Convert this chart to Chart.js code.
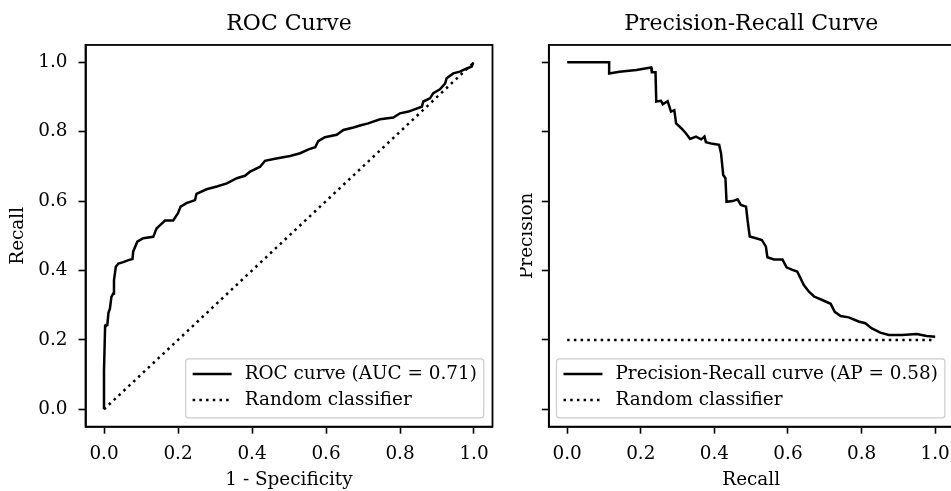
<!DOCTYPE html>
<html>
<head>
<meta charset="utf-8">
<script src="https://cdn.jsdelivr.net/npm/chart.js@4.4.1/dist/chart.umd.min.js"></script>
<style>
  html, body { margin: 0; padding: 0; background: #fff; overflow: hidden; }
  #wrap { position: relative; width: 951px; height: 491px; overflow: hidden; }
  canvas { position: absolute; top: 0; }
  #roc { left: 0; }
  #pr { left: 520px; }
</style>
</head>
<body>
<div id="wrap">
  <canvas id="roc" width="520" height="491"></canvas>
  <canvas id="pr" width="440" height="491"></canvas>
</div>
<script>
// Dati
const tickValues = [0, 0.2, 0.4, 0.6, 0.8, 1.0];

// ROC curve
const rocFpr = [0, 0, 0.003, 0.005, 0.009, 0.012, 0.016, 0.02, 0.025, 0.027, 0.032, 0.039, 0.052, 0.066,
    0.077, 0.079, 0.09, 0.106, 0.133, 0.142, 0.151, 0.165, 0.187, 0.2, 0.207, 0.223, 0.246, 0.25, 0.277,
    0.305, 0.332, 0.359, 0.381, 0.395, 0.422, 0.435, 0.462, 0.503, 0.53, 0.553, 0.571, 0.579, 0.597,
    0.629, 0.647, 0.674, 0.692, 0.714, 0.746, 0.782, 0.8, 0.823, 0.841, 0.859, 0.863, 0.881, 0.89,
    0.908, 0.922, 0.926, 0.944, 0.962, 0.976, 0.994, 0.998, 1.0];
const rocTpr = [0, 0.11, 0.24, 0.243, 0.243, 0.278, 0.29, 0.324, 0.334, 0.372, 0.411, 0.42, 0.424, 0.43,
    0.433, 0.455, 0.483, 0.493, 0.497, 0.521, 0.53, 0.544, 0.544, 0.565, 0.584, 0.594, 0.603, 0.621, 0.634,
    0.642, 0.651, 0.666, 0.673, 0.685, 0.699, 0.716, 0.722, 0.73, 0.738, 0.749, 0.755, 0.773, 0.784,
    0.791, 0.805, 0.812, 0.818, 0.824, 0.836, 0.841, 0.853, 0.858, 0.865, 0.872, 0.887, 0.896, 0.911,
    0.922, 0.939, 0.954, 0.968, 0.973, 0.98, 0.988, 1.0, 1.0];
const rocRandomX = [0, 1];
const rocRandomY = [0, 1];

// Precision-Recall curve
const prRecall = [0, 0.114, 0.114, 0.142, 0.188, 0.228, 0.23, 0.24, 0.242, 0.255, 0.26, 0.273, 0.282,
    0.291, 0.296, 0.31, 0.323, 0.334, 0.35, 0.364, 0.373, 0.377, 0.395, 0.413, 0.418, 0.424, 0.43, 0.433,
    0.45, 0.463, 0.472, 0.486, 0.49, 0.496, 0.513, 0.529, 0.54, 0.544, 0.562, 0.585, 0.596, 0.612, 0.625,
    0.634, 0.643, 0.657, 0.671, 0.693, 0.716, 0.727, 0.743, 0.765, 0.792, 0.81, 0.828, 0.851, 0.874,
    0.91, 0.95, 0.977, 1.0];
const prPrecision = [1.0, 1.0, 0.968, 0.973, 0.978, 0.985, 0.971, 0.971, 0.887, 0.889, 0.879, 0.888, 0.858,
    0.862, 0.824, 0.81, 0.795, 0.779, 0.786, 0.778, 0.786, 0.77, 0.765, 0.762, 0.738, 0.675, 0.666, 0.598,
    0.6, 0.605, 0.589, 0.584, 0.546, 0.498, 0.493, 0.488, 0.469, 0.438, 0.432, 0.432, 0.409, 0.402, 0.397,
    0.378, 0.358, 0.339, 0.325, 0.315, 0.304, 0.281, 0.269, 0.265, 0.253, 0.248, 0.233, 0.221, 0.214,
    0.214, 0.217, 0.211, 0.209];
const prRandomX = [0, 1];
const prRandomY = [0.2, 0.2];

const FONT = '"DejaVu Serif", "Liberation Serif", serif';
const FONT_SIZE = 18.4;

function toPoints(xs, ys) {
    return xs.map((x, i) => ({ x: x, y: ys[i] }));
}

// Cornice, titoli e legenda in stile matplotlib
const framePlugin = {
    id: 'framePlugin',
    afterDraw(chart, args, opts) {
        const ctx = chart.ctx;
        const a = chart.chartArea;
        ctx.save();

        // bordo degli assi
        ctx.strokeStyle = '#000';
        ctx.lineWidth = 1.8;
        ctx.strokeRect(a.left, a.top, a.right - a.left, a.bottom - a.top);

        // titolo
        ctx.fillStyle = '#000';
        ctx.font = '22px ' + FONT;
        ctx.textAlign = 'center';
        ctx.textBaseline = 'alphabetic';
        ctx.fillText(opts.title, (a.left + a.right) / 2, 29.5);

        // etichette degli assi
        ctx.font = FONT_SIZE + 'px ' + FONT;
        ctx.fillText(opts.xLabel, (a.left + a.right) / 2, 485);
        ctx.save();
        ctx.translate(opts.yLabelX, (a.top + a.bottom) / 2);
        ctx.rotate(-Math.PI / 2);
        ctx.textBaseline = 'middle';
        ctx.fillText(opts.yLabel, 0, 0);
        ctx.restore();

        // legenda in basso a destra
        const labels = chart.data.datasets.map(d => d.label);
        const textW = Math.max(...labels.map(t => ctx.measureText(t).width));
        const boxRight = a.right - 8.7;
        const boxBottom = a.bottom - 8.7;
        const boxW = 7 + 39 + 13 + textW + 7;
        const boxH = 59;
        const boxLeft = boxRight - boxW;
        const boxTop = boxBottom - boxH;
        ctx.beginPath();
        ctx.roundRect(boxLeft, boxTop, boxW, boxH, 3);
        ctx.fillStyle = 'rgba(255,255,255,0.8)';
        ctx.fill();
        ctx.strokeStyle = '#cccccc';
        ctx.lineWidth = 1.2;
        ctx.stroke();

        chart.data.datasets.forEach((d, i) => {
            const y = boxTop + 15 + i * 26;
            ctx.beginPath();
            ctx.strokeStyle = d.borderColor;
            ctx.lineWidth = d.borderWidth;
            ctx.setLineDash(d.borderDash || []);
            ctx.moveTo(boxLeft + 7, y);
            ctx.lineTo(boxLeft + 46, y);
            ctx.stroke();
            ctx.setLineDash([]);
            ctx.fillStyle = '#000';
            ctx.textAlign = 'left';
            ctx.textBaseline = 'middle';
            ctx.fillText(d.label, boxLeft + 59, y);
        });
        ctx.restore();
    }
};

function makeScales(yWidth, showYLabels) {
    const common = {
        type: 'linear',
        min: -0.05,
        max: 1.05,
        afterBuildTicks: scale => { scale.ticks = tickValues.map(v => ({ value: v })); },
        grid: {
            drawOnChartArea: false,
            drawTicks: true,
            tickLength: 7,
            tickWidth: 1.6,
            tickColor: '#000'
        },
        border: { display: true, color: '#000', width: 1.8 }
    };
    return {
        x: Object.assign({}, common, {
            afterFit: scale => { scale.height = 491 - 426.65; },
            ticks: {
                color: '#000',
                font: { family: FONT, size: FONT_SIZE },
                padding: 10,
                maxRotation: 0,
                callback: v => v.toFixed(1)
            }
        }),
        y: Object.assign({}, common, {
            afterFit: scale => { scale.width = yWidth; },
            ticks: {
                color: '#000',
                font: { family: FONT, size: FONT_SIZE },
                padding: 11,
                callback: v => showYLabels ? v.toFixed(1) : ''
            }
        })
    };
}

function makeChart(id, datasets, yWidth, rightPad, showYLabels, labelsOpts) {
    return new Chart(document.getElementById(id).getContext('2d'), {
        type: 'line',
        data: { datasets: datasets },
        options: {
            responsive: false,
            animation: false,
            devicePixelRatio: 1,
            layout: { padding: { left: 0, top: 44.95, right: rightPad, bottom: 0 } },
            elements: { point: { radius: 0 }, line: { tension: 0 } },
            scales: makeScales(yWidth, showYLabels),
            plugins: {
                legend: { display: false },
                tooltip: { enabled: false },
                framePlugin: labelsOpts
            }
        },
        plugins: [framePlugin]
    });
}

makeChart('roc', [
    {
        label: 'ROC curve (AUC = 0.71)',
        data: toPoints(rocFpr, rocTpr),
        borderColor: '#000',
        borderWidth: 2.5,
        fill: false
    },
    {
        label: 'Random classifier',
        data: toPoints(rocRandomX, rocRandomY),
        borderColor: '#000',
        borderWidth: 2.5,
        borderDash: [2.5, 4.2],
        fill: false
    }
], 85.5, 520 - 492.5, true, { title: 'ROC Curve', xLabel: '1 - Specificity', yLabel: 'Recall', yLabelX: 18 });

makeChart('pr', [
    {
        label: 'Precision-Recall curve (AP = 0.58)',
        data: toPoints(prRecall, prPrecision),
        borderColor: '#000',
        borderWidth: 2.5,
        fill: false
    },
    {
        label: 'Random classifier',
        data: toPoints(prRandomX, prRandomY),
        borderColor: '#000',
        borderWidth: 2.5,
        borderDash: [2.5, 4.2],
        fill: false
    }
], 548.8 - 520, 440 - 435.8, false, { title: 'Precision-Recall Curve', xLabel: 'Recall', yLabel: 'Precision', yLabelX: 7 });
</script>
</body>
</html>
